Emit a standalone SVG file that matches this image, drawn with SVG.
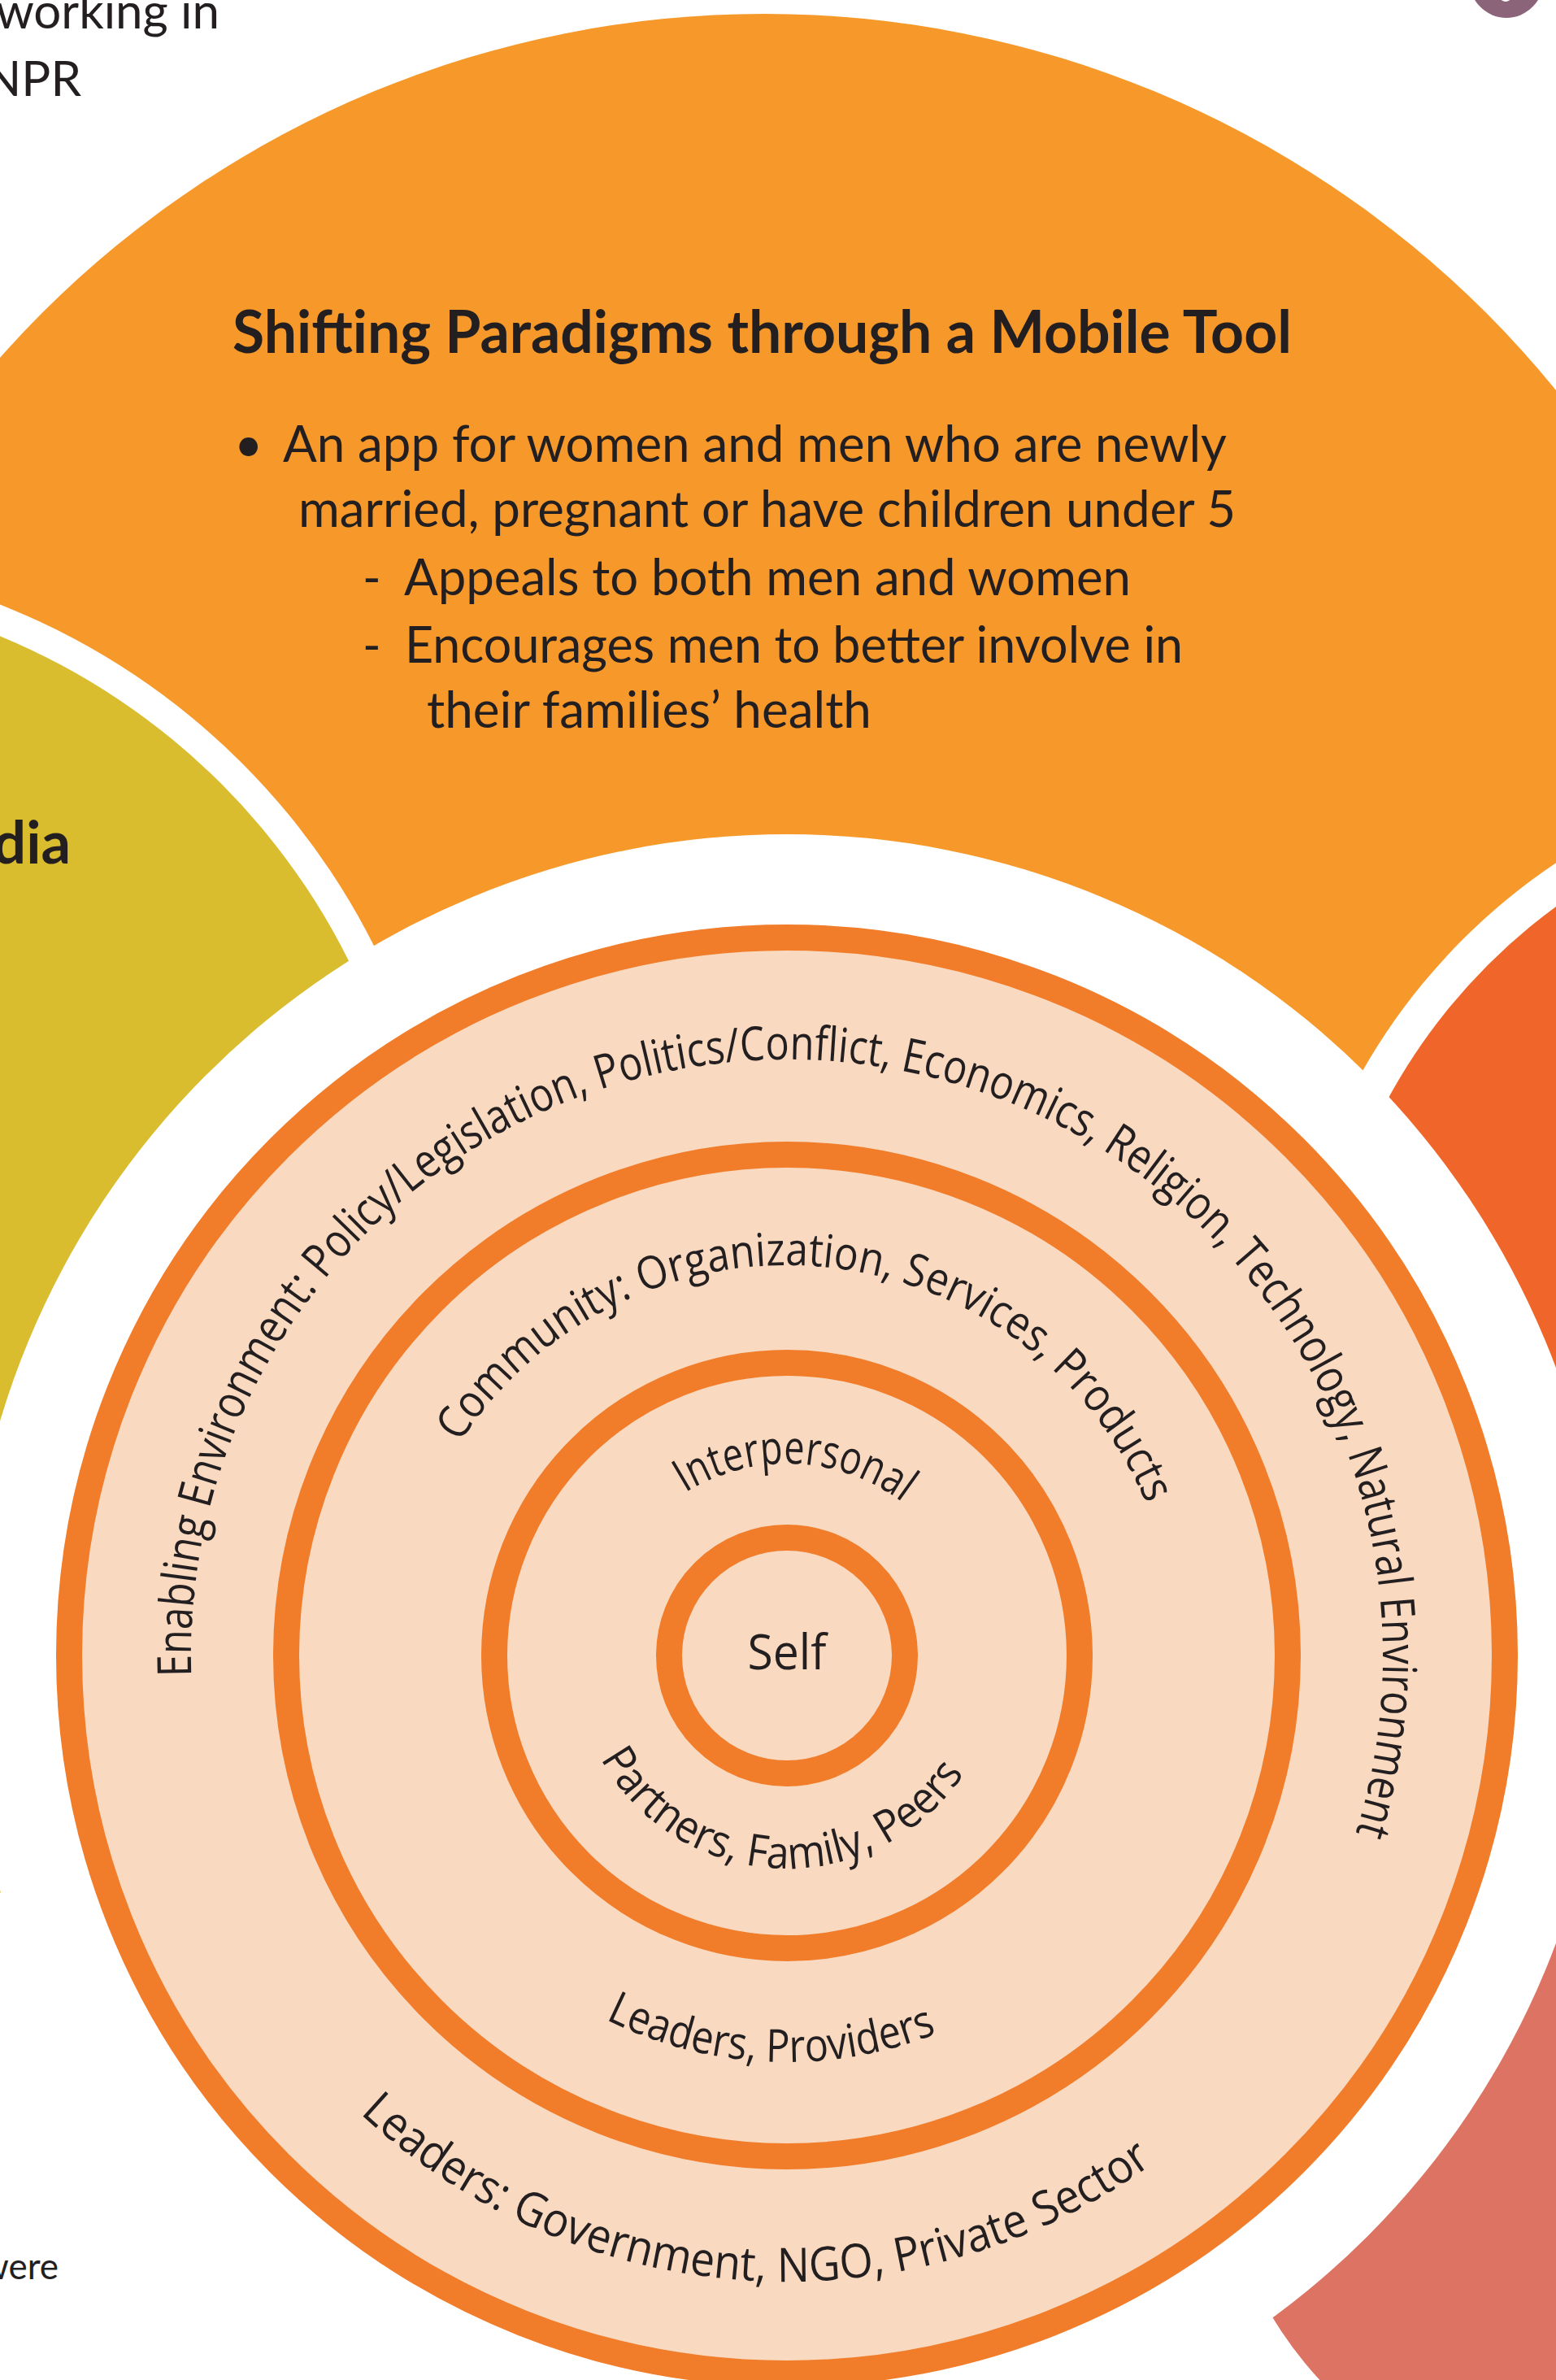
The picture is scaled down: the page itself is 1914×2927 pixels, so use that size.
<svg xmlns="http://www.w3.org/2000/svg" width="1914" height="2927" viewBox="0 0 1914 2927">
  <style>
    .t { font-family: Lato, "Open Sans", "Liberation Sans", sans-serif; fill: #231F20; }
    .h { font-weight: 700; font-size: 72px; }
    .b { font-size: 61px; }
    .r { font-family: "Open Sans", "Noto Sans", "Liberation Sans", sans-serif; fill: #231F20; }
    .ring { fill: none; stroke: #F17C2A; stroke-width: 32; }
  </style>
  <defs>
    <!-- baselines for the curved labels, all centred on the model (968, 2036) -->
    <path id="arc-env" d="M 235.45 2061.58 A 733 733 0 1 1 1665.12 2262.51"/>
    <path id="arc-com" d="M 565.44 1774.57 A 480 480 0 0 1 1411.46 1852.31"/>
    <path id="arc-int" d="M 842.94 1835.86 A 236 236 0 0 1 1111.67 1848.77"/>
    <path id="arc-pfp" d="M 738.85 2163.02 A 262 262 0 0 0 1187.73 2178.70"/>
    <path id="arc-lp" d="M 744.90 2483.47 A 500 500 0 0 0 1155.30 2499.59"/>
    <path id="arc-lg" d="M 442.86 2599.14 A 770 770 0 0 0 1420.59 2658.94"/>
  </defs>

  <rect width="1914" height="2927" fill="#FFFFFF"/>

  <!-- surrounding panels -->
  <g id="panel-mobile">
    <circle cx="940" cy="1273" r="1256" fill="#F6992A"/>
  </g>
  <g id="panel-media">
    <circle cx="-319" cy="1555" r="872" fill="#FFFFFF"/>
    <circle cx="-319" cy="1555" r="836" fill="#D9BD2F"/>
  </g>
  <g id="panel-right">
    <circle cx="2336.5" cy="1693" r="760" fill="#FFFFFF"/>
    <circle cx="2336.5" cy="1693" r="716" fill="#F06529"/>
  </g>
  <g id="panel-lower-right">
    <circle cx="1990" cy="2590" r="498" fill="#DD7362"/>
  </g>
  <g id="badge-top-right">
    <ellipse cx="1853" cy="-28" rx="47" ry="50" fill="#8C6479"/>
    <ellipse cx="1852" cy="-22" rx="13" ry="24" fill="#FFFFFF"/>
  </g>

  <!-- loose text outside the panels -->
  <g id="side-text" class="t">
    <text x="270" y="35" font-size="60" text-anchor="end">working in</text>
    <text x="100" y="118" font-size="60" text-anchor="end">NPR</text>
    <text x="72" y="2803" font-size="44" text-anchor="end">were</text>
  </g>

  <!-- mobile tool panel text -->
  <g id="mobile-text" class="t">
    <text class="h" x="286" y="434" textLength="1303" lengthAdjust="spacingAndGlyphs">Shifting Paradigms through a Mobile Tool</text>
    <text class="b" x="288" y="568">•</text>
    <text class="b" x="348" y="568" textLength="1161" lengthAdjust="spacingAndGlyphs">An app for women and men who are newly</text>
    <text class="b" x="367" y="648" textLength="1153" lengthAdjust="spacingAndGlyphs">married, pregnant or have children under 5</text>
    <text class="b" x="446" y="732">-</text>
    <text class="b" x="497" y="732" textLength="894" lengthAdjust="spacingAndGlyphs">Appeals to both men and women</text>
    <text class="b" x="446" y="815">-</text>
    <text class="b" x="498" y="815" textLength="957" lengthAdjust="spacingAndGlyphs">Encourages men to better involve in</text>
    <text class="b" x="525" y="895" textLength="547" lengthAdjust="spacingAndGlyphs">their families’ health</text>
  </g>
  <g id="media-text" class="t">
    <text class="h" x="87" y="1062" text-anchor="end">dia</text>
  </g>

  <!-- socio-ecological model -->
  <g id="model">
    <circle cx="968" cy="2036" r="1010" fill="#FFFFFF"/>
    <g id="ring-enabling">
      <circle cx="968" cy="2036" r="883" class="ring" style="fill:#F9D9BF"/>
    </g>
    <g id="ring-community">
      <circle cx="968" cy="2036" r="616" class="ring"/>
    </g>
    <g id="ring-interpersonal">
      <circle cx="968" cy="2036" r="360" class="ring"/>
    </g>
    <g id="ring-self">
      <circle cx="968" cy="2036" r="145" class="ring"/>
    </g>
  </g>

  <g id="model-labels" class="r">
    <text font-size="58"><textPath href="#arc-env" textLength="2550" lengthAdjust="spacingAndGlyphs">Enabling Environment: Policy/Legislation, Politics/Conflict, Economics, Religion, Technology, Natural Environment</textPath></text>
    <text font-size="56"><textPath href="#arc-com" textLength="1040" lengthAdjust="spacingAndGlyphs">Community: Organization, Services, Products</textPath></text>
    <text font-size="57"><textPath href="#arc-int" textLength="284" lengthAdjust="spacingAndGlyphs">Interpersonal</textPath></text>
    <text x="968" y="2053" font-size="60" text-anchor="middle" textLength="97" lengthAdjust="spacingAndGlyphs">Self</text>
    <text font-size="55"><textPath href="#arc-pfp" textLength="536" lengthAdjust="spacingAndGlyphs">Partners, Family, Peers</textPath></text>
    <text font-size="56"><textPath href="#arc-lp" textLength="420" lengthAdjust="spacingAndGlyphs">Leaders, Providers</textPath></text>
    <text font-size="58"><textPath href="#arc-lg" textLength="1058" lengthAdjust="spacingAndGlyphs">Leaders: Government, NGO, Private Sector</textPath></text>
  </g>
</svg>
